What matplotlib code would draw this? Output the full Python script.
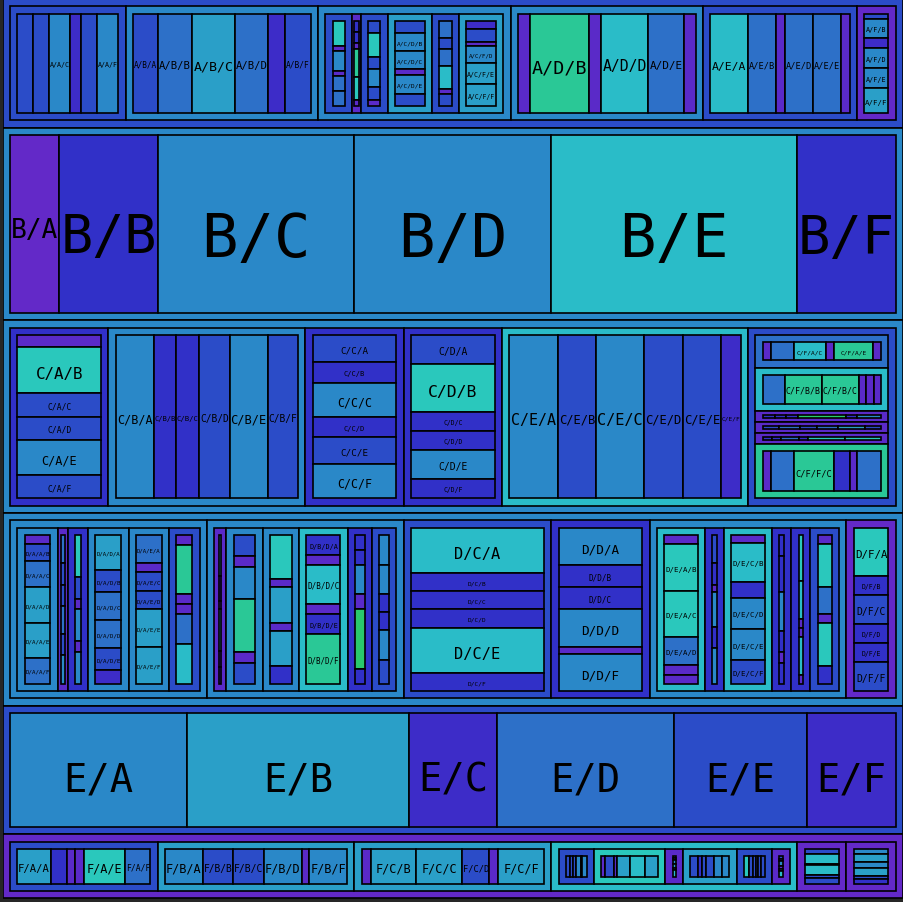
import matplotlib.pyplot as plt
from matplotlib.patches import Rectangle
from matplotlib.textpath import TextPath
from matplotlib.font_manager import FontProperties

letters = ["A", "B", "C", "D", "E", "F"]

# relative sizes of the six rows A..F
top_weights = [2, 3, 3, 3, 2, 1]

# relative sizes of the six children (A..F) of each node, by path
weights_A = {
    "A": [3, 5, 5, 5, 4, 1],
    "A/A": [3, 3, 4, 2, 3, 4],
    "A/B": [3, 4, 5, 4, 2, 3],
    "A/C": [3, 1, 3, 5, 3, 5],
    "A/C/A": [5, 1, 4, 1, 3, 3],
    "A/C/B": [2, 2, 1, 5, 4, 1],
    "A/C/C": [2, 4, 2, 3, 2, 1],
    "A/C/D": [2, 3, 3, 1, 3, 2],
    "A/C/E": [3, 2, 3, 4, 1, 2],
    "A/C/F": [2, 3, 1, 4, 5, 5],
    "A/D": [1, 5, 1, 4, 3, 1],
    "A/E": [4, 3, 1, 3, 3, 1],
    "A/F": [1, 4, 2, 4, 4, 5],
}
weights_B = {
    "B": [1, 2, 4, 4, 5, 2],
}
weights_C = {
    "C": [2, 4, 2, 2, 5, 3],
    "C/A": [1, 4, 2, 2, 3, 2],
    "C/B": [5, 3, 3, 4, 5, 4],
    "C/C": [4, 3, 5, 3, 4, 5],
    "C/D": [3, 5, 2, 2, 3, 2],
    "C/E": [5, 4, 5, 4, 4, 2],
    "C/F": [3, 4, 1, 1, 1, 5],
    "C/F/A": [1, 3, 4, 1, 5, 1],
    "C/F/B": [3, 5, 5, 1, 1, 1],
    "C/F/C": [1, 1, 1, 4, 1, 2],
    "C/F/D": [3, 4, 3, 4, 5, 3],
    "C/F/E": [1, 1, 2, 1, 4, 4],
    "C/F/F": [1, 3, 5, 2, 1, 3],
}
weights_D = {
    "D": [4, 4, 3, 2, 4, 1],
    "D/A": [4, 1, 2, 4, 4, 3],
    "D/A/A": [1, 2, 3, 4, 4, 3],
    "D/A/B": [4, 3, 3, 4, 3, 4],
    "D/A/C": [4, 2, 1, 3, 1, 3],
    "D/A/D": [5, 3, 4, 4, 3, 2],
    "D/A/E": [3, 1, 2, 2, 4, 4],
    "D/A/F": [1, 5, 1, 1, 3, 4],
    "D/B": [1, 3, 3, 4, 2, 2],
    "D/B/A": [5, 3, 1, 5, 2, 2],
    "D/B/B": [2, 1, 3, 5, 1, 2],
    "D/B/C": [5, 1, 4, 1, 4, 2],
    "D/B/D": [2, 1, 4, 1, 2, 5],
    "D/B/E": [1, 1, 2, 1, 4, 1],
    "D/B/F": [5, 5, 3, 3, 5, 4],
    "D/C": [5, 2, 2, 2, 5, 2],
    "D/D": [5, 3, 3, 5, 1, 5],
    "D/E": [5, 2, 5, 2, 2, 3],
    "D/E/A": [1, 5, 5, 3, 1, 1],
    "D/E/B": [4, 3, 1, 5, 3, 5],
    "D/E/C": [1, 5, 2, 4, 4, 3],
    "D/E/D": [6, 10, 11, 6, 3, 6],
    "D/E/E": [5, 4, 1, 1, 4, 1],
    "D/E/F": [1, 5, 3, 1, 5, 2],
    "D/F": [5, 2, 3, 2, 2, 3],
}
weights_E = {
    "E": [4, 5, 2, 4, 3, 2],
}
weights_F = {
    "F": [3, 4, 4, 5, 1, 1],
    "F/A": [4, 2, 1, 1, 5, 3],
    "F/B": [5, 4, 4, 5, 1, 5],
    "F/C": [1, 5, 5, 3, 1, 5],
    "F/D": [2, 4, 1, 3, 2, 1],
    "F/D/A": [3, 2, 2, 3, 1, 3],
    "F/D/B": [1, 3, 1, 4, 5, 4],
    "F/D/C": [1, 1, 2, 2, 1, 3],
    "F/D/D": [2, 1, 1, 2, 2, 2],
    "F/D/E": [4, 3, 2, 2, 2, 3],
    "F/D/F": [1, 1, 2, 1, 1, 2],
    "F/E": [3, 5, 1, 5, 2, 3],
    "F/F": [2, 3, 2, 3, 1, 2],
}

# colour keys of the six children of each node (one character per child)
top_colors = "bsssbv"
colors_A = {
    "A": "bsssbv",
    "A/A": "bbsibs",
    "A/B": "bmcmib",
    "A/C": "bpbcbc",
    "A/C/A": "qpspmm",
    "A/C/B": "rrpgqp",
    "A/C/C": "bqbsbp",
    "A/C/D": "bsspsb",
    "A/C/E": "mbmtpb",
    "A/C/F": "ibpscc",
    "A/D": "pgptmp",
    "A/E": "tmpmmp",
    "A/F": "bsissc",
}
colors_B = {"B": "vrsstr"}
colors_C = {
    "C": "rsrrtb",
    "C/A": "pqbbsb",
    "C/B": "srrbsb",
    "C/C": "brsrbs",
    "C/D": "bqrrsr",
    "C/E": "sbsbbi",
    "C/F": "mtpppg",
    "C/F/A": "pmtpgp",
    "C/F/B": "mggppp",
    "C/F/C": "rrrGrs",
    "C/F/D": "bmbmcb",
    "C/F/E": "rrmrqq",
    "C/F/F": "pmgrpm",
}
colors_D = {
    "D": "ssbrsv",
    "D/A": "sprssb",
    "D/A/A": "pbmccm",
    "D/A/B": "mbbmbs",
    "D/A/C": "qbpsps",
    "D/A/D": "cbmmbi",
    "D/A/E": "mpbbcc",
    "D/A/F": "pgppmt",
    "D/B": "psstrb",
    "D/B/A": "tiptii",
    "D/B/B": "bpsgpb",
    "D/B/C": "qpcpcr",
    "D/B/D": "rptprg",
    "D/B/E": "rrspGr",
    "D/B/F": "ssrrsb",
    "D/C": "trrrtr",
    "D/D": "srrsps",
    "D/E": "trtrrb",
    "D/E/A": "pqqmpp",
    "D/E/B": "brpsrs",
    "D/E/C": "ptrssb",
    "D/E/D": "rrsrpr",
    "D/E/E": "qtpptp",
    "D/E/F": "pqmpqr",
    "D/F": "qrbrrb",
}
colors_E = {"E": "scimbi"}
colors_F = {
    "F": "bcctvv",
    "F/A": "crppqm",
    "F/B": "sbbsps",
    "F/C": "pccbpc",
    "F/D": "bqpcbp",
    "F/D/A": "bbbsrs",
    "F/D/B": "pbpctc",
    "F/D/C": "brscrt",
    "F/D/D": "brbbss",
    "F/D/E": "qbbbbb",
    "F/D/F": "brspst",
    "F/E": "btrtbb",
    "F/F": "scscbr",
}

palette = {
    "b": "#2b4cc8",
    "m": "#2d70c8",
    "s": "#2a88c8",
    "c": "#2a9fc8",
    "t": "#2abcc8",
    "q": "#2ac8bc",
    "g": "#2ac896",
    "G": "#2ac86c",
    "r": "#3130c8",
    "i": "#3d2cc8",
    "p": "#5a2ac8",
    "v": "#6329c8",
}

weights = {"": top_weights}
colors = {"": top_colors}
for w_part, c_part in [(weights_A, colors_A), (weights_B, colors_B), (weights_C, colors_C),
                       (weights_D, colors_D), (weights_E, colors_E), (weights_F, colors_F)]:
    weights.update(w_part)
    colors.update(c_part)

# nodes whose split direction is too close to call from the aspect ratio
force_split = {"": "v", "F/E": "v", "F/F": "v", "F/D/A": "h"}

PAD = 7.3
FAMILY = "DejaVu Sans Mono"
FONT = FontProperties(family=FAMILY)

FIG_W, FIG_H = 904, 902
x_left, x_right = 2.7, 903.0
y_top, y_bottom = -1.0, 898.5

fig = plt.figure(figsize=(FIG_W / 100, FIG_H / 100), dpi=100, facecolor="#262626")
ax = fig.add_axes([x_left / FIG_W, (FIG_H - y_bottom) / FIG_H,
                   (x_right - x_left) / FIG_W, (y_bottom - y_top) / FIG_H])
W = x_right - x_left
H = y_bottom - y_top
ax.set_xlim(0, W)
ax.set_ylim(H, 0)
ax.axis("off")


def pad_for(d):
    return min(PAD, max(0.0, d - PAD))


def add_label(path, x, y, w, h, depth):
    text_w = TextPath((0, 0), path, size=1, prop=FONT).get_extents().width
    em = min(0.34 * h, 0.91 * w / text_w)
    if em < 5.4:
        return
    # baseline sits a little below centre, as in the reference
    ax.text(x + w / 2, y + h / 2 + 0.555 * em, path, fontsize=em * 0.72, family=FAMILY,
            ha="center", va="baseline", color="black", zorder=depth + 100)


def draw(path, x, y, w, h, color, depth):
    ax.add_patch(Rectangle((x, y), w, h, facecolor=palette[color], edgecolor="black",
                           lw=1.2, zorder=depth))
    if path not in weights:
        add_label(path, x, y, w, h, depth)
        return
    px, py = pad_for(w), pad_for(h)
    split(path, x + px, y + py, w - 2 * px, h - 2 * py, depth + 1)


def split(path, x, y, w, h, depth):
    ws = weights[path]
    cs = colors[path]
    total = sum(ws)
    horizontal = w >= h
    if path in force_split:
        horizontal = force_split[path] == "h"
    pos = 0.0
    for letter, wt, c in zip(letters, ws, cs):
        child = letter if path == "" else path + "/" + letter
        if horizontal:
            cw = w * wt / total
            draw(child, x + pos, y, cw, h, c, depth)
            pos += cw
        else:
            ch = h * wt / total
            draw(child, x, y + pos, w, ch, c, depth)
            pos += ch


split("", 0, 0, W, H, 1)

plt.savefig("out.png", dpi=100, facecolor=fig.get_facecolor())
